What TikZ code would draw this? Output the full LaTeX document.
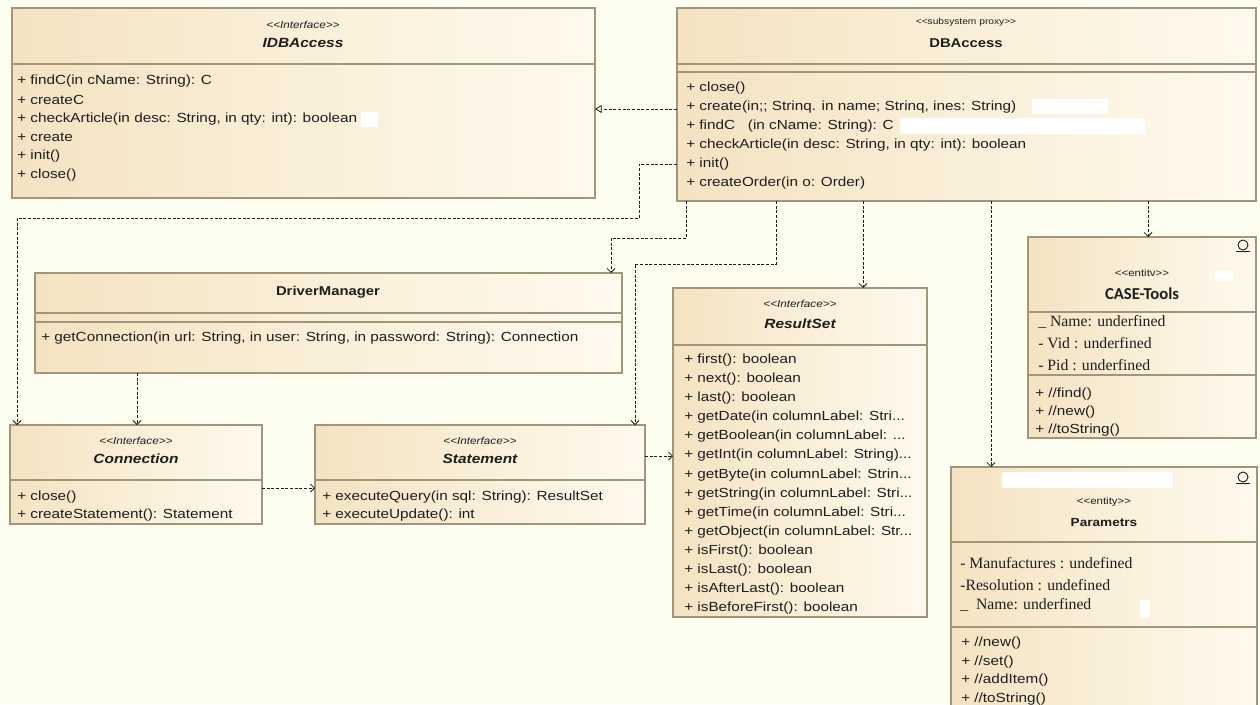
\documentclass[tikz,border=0pt]{standalone}
\usepackage{fontspec}
\usetikzlibrary{arrows.meta,calc}
\setmainfont[FakeStretch=1.16]{Liberation Sans}
\newfontfamily\attrserif{Liberation Serif}
\newfontfamily\headsans{Carlito}
\definecolor{paper}{HTML}{FEFEF0}
\definecolor{boxL}{HTML}{F4E3C2}
\definecolor{boxR}{HTML}{FFFAEE}
\definecolor{edge}{HTML}{A3957A}
\definecolor{ink}{HTML}{1E1E1E}
\begin{document}
\begin{tikzpicture}[x=0.75pt,y=-0.75pt,
  cls/.style={draw=edge,line width=1.1pt,left color=boxL,right color=boxR,anchor=north west,inner sep=0pt,outer sep=0pt},
  sep/.style={draw=edge,line width=1.1pt},
  op/.style={anchor=west,inner sep=0pt,text=ink,font=\fontsize{9.9}{11}\selectfont},
  attr/.style={anchor=west,inner sep=0pt,text=ink,font=\attrserif\fontsize{11.8}{13}\selectfont},
  ster/.style={inner sep=0pt,text=ink,font=\fontsize{6.6}{7}\selectfont},
  isster/.style={inner sep=0pt,text=ink,font=\fontsize{7.6}{8}\selectfont\itshape},
  ester/.style={inner sep=0pt,text=ink,font=\fontsize{7.4}{8}\selectfont},
  cname/.style={inner sep=0pt,text=ink,font=\fontsize{9.6}{10}\selectfont\bfseries},
  iname/.style={inner sep=0pt,text=ink,font=\fontsize{10}{11}\selectfont\bfseries\itshape},
  dep/.style={draw=ink,line width=0.6pt,dash pattern=on 2.2pt off 1.3pt,-{Straight Barb[length=3pt,width=6pt]}},
  real/.style={draw=ink,line width=0.6pt,dash pattern=on 2.2pt off 1.3pt,-{Triangle[open,length=5pt,width=6pt]}},
  patch/.style={fill=white},
  icon/.style={draw=ink,line width=0.7pt},
]
\fill[paper] (0,0) rectangle (1260,704);
\useasboundingbox (0,0) rectangle (1260,704);

% ---------- class boxes ----------
\node[cls,minimum width=583*0.75pt,minimum height=190*0.75pt] (idb) at (12,8) {};
\node[cls,minimum width=579*0.75pt,minimum height=193*0.75pt] (dba) at (677,8) {};
\node[cls,minimum width=587*0.75pt,minimum height=100*0.75pt] (dm) at (35,273) {};
\node[cls,minimum width=252*0.75pt,minimum height=99*0.75pt] (con) at (10,425) {};
\node[cls,minimum width=330*0.75pt,minimum height=99*0.75pt] (st) at (315,425) {};
\node[cls,minimum width=254*0.75pt,minimum height=329*0.75pt] (rs) at (673,288) {};
\node[cls,minimum width=228*0.75pt,minimum height=201*0.75pt] (ct) at (1028,237) {};
\node[cls,minimum width=306*0.75pt,minimum height=270*0.75pt] (par) at (951,467) {};

% compartment separators
\draw[sep] ($(idb.north west)+(0,56)$) -- ($(idb.north east)+(0,56)$);
\draw[sep] ($(dba.north west)+(0,56)$) -- ($(dba.north east)+(0,56)$);
\draw[sep] ($(dba.north west)+(0,64)$) -- ($(dba.north east)+(0,64)$);
\draw[sep] ($(dm.north west)+(0,40)$) -- ($(dm.north east)+(0,40)$);
\draw[sep] ($(dm.north west)+(0,49)$) -- ($(dm.north east)+(0,49)$);
\draw[sep] ($(con.north west)+(0,55)$) -- ($(con.north east)+(0,55)$);
\draw[sep] ($(st.north west)+(0,55)$) -- ($(st.north east)+(0,55)$);
\draw[sep] ($(rs.north west)+(0,57)$) -- ($(rs.north east)+(0,57)$);
\draw[sep] ($(ct.north west)+(0,75)$) -- ($(ct.north east)+(0,75)$);
\draw[sep] ($(ct.north west)+(0,138)$) -- ($(ct.north east)+(0,138)$);
\draw[sep] ($(par.north west)+(0,75)$) -- ($(par.north east)+(0,75)$);
\draw[sep] ($(par.north west)+(0,160)$) -- ($(par.north east)+(0,160)$);

% erased patches on the boxes
\fill[patch] (361,112) rectangle (378,127);
\fill[patch] (900,118) rectangle (1145,134);
\fill[patch] (1032,99) rectangle (1108,114);
\fill[patch] (1215,271) rectangle (1233,281);
\fill[patch] (1002,472) rectangle (1172,488);
\fill[patch] (1140,600) rectangle (1150,618);

% ---------- IDBAccess ----------
\node[isster] (idb-s) at (303,25) {{<}{<}Interface{>}{>}};
\node[iname] (idb-n) at (303,43) {IDBAccess};
\node[op] (idb-1) at (17,81) {+ findC(in cName: String): C};
\node[op] (idb-2) at (17,99.8) {+ createC};
\node[op] (idb-3) at (17,118.6) {+ checkArticle(in desc: String, in qty: int): boolean};
\node[op] (idb-4) at (17,137.4) {+ create};
\node[op] (idb-5) at (17,156.2) {+ init()};
\node[op] (idb-6) at (17,175) {+ close()};

% ---------- DBAccess ----------
\node[ster] (dba-s) at (966,22) {{<}{<}subsystem proxy{>}{>}};
\node[cname] (dba-n) at (966,43) {DBAccess};
\node[op] (dba-1) at (686,88) {+ close()};
\node[op] (dba-2) at (686,107) {+ create(in;; Strinq. in name; Strinq, ines: String)};
\node[op] (dba-3) at (686,126) {+ findC\ \ \ (in cName: String): C};
\node[op] (dba-4) at (686,145) {+ checkArticle(in desc: String, in qty: int): boolean};
\node[op] (dba-5) at (686,164) {+ init()};
\node[op] (dba-6) at (686,183) {+ createOrder(in o: Order)};

% ---------- DriverManager ----------
\node[cname] (dm-n) at (328,292) {DriverManager};
\node[op] (dm-1) at (41,338) {+ getConnection(in url: String, in user: String, in password: String): Connection};

% ---------- Connection ----------
\node[isster] (con-s) at (136,441) {{<}{<}Interface{>}{>}};
\node[iname] (con-n) at (136,459) {Connection};
\node[op] (con-1) at (17,497) {+ close()};
\node[op] (con-2) at (17,515) {+ createStatement(): Statement};

% ---------- Statement ----------
\node[isster] (st-s) at (480,441) {{<}{<}Interface{>}{>}};
\node[iname] (st-n) at (480,459) {Statement};
\node[op] (st-1) at (322,497) {+ executeQuery(in sql: String): ResultSet};
\node[op] (st-2) at (322,515) {+ executeUpdate(): int};

% ---------- ResultSet ----------
\node[isster] (rs-s) at (800,304) {{<}{<}Interface{>}{>}};
\node[iname] (rs-n) at (800,324) {ResultSet};
\node[op] (rs-0) at (684,360.0) {+ first(): boolean};
\node[op] (rs-1) at (684,379.1) {+ next(): boolean};
\node[op] (rs-2) at (684,398.2) {+ last(): boolean};
\node[op] (rs-3) at (684,417.3) {+ getDate(in columnLabel: Stri...};
\node[op] (rs-4) at (684,436.4) {+ getBoolean(in columnLabel: ...};
\node[op] (rs-5) at (684,455.5) {+ getInt(in columnLabel: String)...};
\node[op] (rs-6) at (684,474.6) {+ getByte(in columnLabel: Strin...};
\node[op] (rs-7) at (684,493.7) {+ getString(in columnLabel: Stri...};
\node[op] (rs-8) at (684,512.8) {+ getTime(in columnLabel: Stri...};
\node[op] (rs-9) at (684,531.9) {+ getObject(in columnLabel: Str...};
\node[op] (rs-10) at (684,551.0) {+ isFirst(): boolean};
\node[op] (rs-11) at (684,570.1) {+ isLast(): boolean};
\node[op] (rs-12) at (684,589.2) {+ isAfterLast(): boolean};
\node[op] (rs-13) at (684,608.3) {+ isBeforeFirst(): boolean};

% ---------- CASE-Tools ----------
\node[ester] (ct-s) at (1142,273) {{<}{<}entitv{>}{>}};
\node[inner sep=0pt,text=ink,font=\headsans\fontsize{12.5}{13}\selectfont\bfseries] (ct-n) at (1142,294) {CASE-Tools};
\node[attr] (ct-a1) at (1038,322) {\_ Name: underfined};
\node[attr] (ct-a2) at (1038,343) {- Vid : underfined};
\node[attr] (ct-a3) at (1038,365) {- Pid : underfined};
\node[op] (ct-1) at (1035,394) {+ //find()};
\node[op] (ct-2) at (1035,412) {+ //new()};
\node[op] (ct-3) at (1035,430) {+ //toString()};
\draw[icon] (1243,245) circle (5);
\draw[icon] (1236,251) -- (1250,251);

% ---------- Parametrs ----------
\node[ester] (par-s) at (1104,502) {{<}{<}entity{>}{>}};
\node[cname,font=\fontsize{8.8}{10}\selectfont\bfseries] (par-n) at (1104,523) {Parametrs};
\node[attr] (par-a1) at (960,563) {- Manufactures : undefined};
\node[attr] (par-a2) at (960,585) {-Resolution : undefined};
\node[attr] (par-a3) at (960,605) {\_ \ Name: underfined};
\node[op] (par-1) at (961,643) {+ //new()};
\node[op] (par-2) at (961,662) {+ //set()};
\node[op] (par-3) at (961,680) {+ //addItem()};
\node[op] (par-4) at (961,699) {+ //toString()};
\draw[icon] (1243,477) circle (5);
\draw[icon] (1236,483) -- (1250,483);

% ---------- relations ----------
\draw[real] ($(dba.north west)+(0,101)$) -- ($(idb.north east)+(0,101)$);
\draw[dep] ($(dba.north west)+(0,156)$) -| (639,218) -| ($(con.north west)+(7,0)$);
\draw[dep] ($(dba.south west)+(9,0)$) |- ($(dm.north east)+(-11,-35)$) -- ($(dm.north east)+(-11,0)$);
\draw[dep] ($(dba.south west)+(99,0)$) |- ($(st.north east)+(-10,-161)$) -- ($(st.north east)+(-10,0)$);
\draw[dep] ($(dba.south west)+(186,0)$) -- ($(rs.north west)+(190,0)$);
\draw[dep] ($(dba.south west)+(314,0)$) -- ($(par.north west)+(40,0)$);
\draw[dep] ($(dba.south west)+(471,0)$) -- ($(ct.north west)+(120,0)$);
\draw[dep] ($(dm.south west)+(102,0)$) -- ($(con.north west)+(127,0)$);
\draw[dep] ($(con.north east)+(0,63)$) -- ($(st.north west)+(0,63)$);
\draw[dep] ($(st.north east)+(0,31)$) -- ($(rs.north west)+(0,168)$);
\end{tikzpicture}
\end{document}
